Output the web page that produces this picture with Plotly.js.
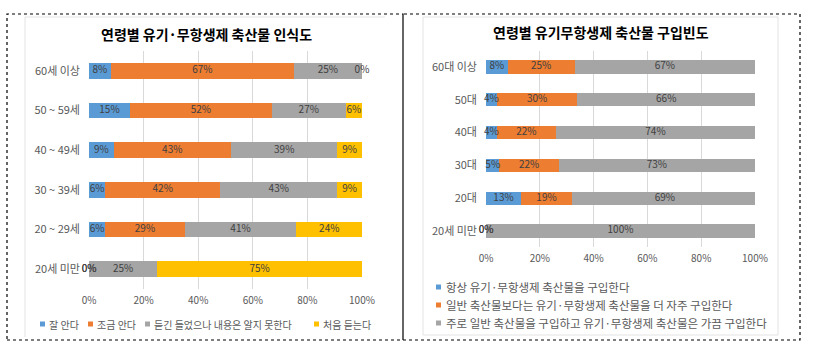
<!DOCTYPE html>
<html>
<head>
<meta charset="utf-8">
<script src="https://cdn.plot.ly/plotly-3.0.1.min.js"></script>
<style>html,body{margin:0;padding:0;background:#fff;}#chart{width:815px;height:351px;}</style>
</head>
<body>
<div id="chart"></div>
<script>
// ---- Data: left chart (awareness by age) ----
var ageCats1 = ["60세 이상", "50 ~ 59세", "40 ~ 49세", "30 ~ 39세", "20 ~ 29세", "20세 미만"];
var seriesNames1 = ["잘 안다", "조금 안다", "듣긴 들었으나 내용은 알지 못한다", "처음 듣는다"];
var knowWell   = [8, 15, 9, 6, 6, 0];
var knowLittle = [67, 52, 43, 42, 29, 0];
var heardOnly  = [25, 27, 39, 43, 41, 25];
var firstHear  = [0, 6, 9, 9, 24, 75];

// ---- Data: right chart (purchase frequency by age) ----
var ageCats2 = ["60대 이상", "50대", "40대", "30대", "20대", "20세 미만"];
var seriesNames2 = ["항상 유기·무항생제 축산물을 구입한다",
                    "일반 축산물보다는 유기·무항생제 축산물을 더 자주 구입한다",
                    "주로 일반 축산물을 구입하고 유기·무항생제 축산물은 가끔 구입한다"];
var alwaysBuy  = [8, 4, 4, 5, 13, 0];
var moreOften  = [25, 30, 22, 22, 19, 0];
var sometimes  = [67, 66, 74, 73, 69, 100];

var xTicks = [0, 20, 40, 60, 80, 100];
var xTickText = ["0%", "20%", "40%", "60%", "80%", "100%"];

var colors = ["#5B9BD5", "#ED7D31", "#A5A5A5", "#FFC000"];
var FONT = "'Noto Sans CJK KR', 'Noto Sans', sans-serif";
var W = 815, H = 351;
function X(px){ return px / W; }
function Y(py){ return 1 - py / H; }

var traces = [];
function addChart(cats, seriesList, names, xa, ya){
  var cum = cats.map(function(){ return 0; });
  seriesList.forEach(function(vals, i){
    traces.push({
      type: "bar", orientation: "h", name: names[i],
      x: vals, y: cats, xaxis: xa, yaxis: ya,
      marker: {color: colors[i]}, showlegend: false, hoverinfo: "x+y+name"
    });
    var mids = vals.map(function(v, j){ var m = cum[j] + v / 2; cum[j] += v; return m; });
    traces.push({
      type: "scatter", mode: "text", x: mids, y: cats, xaxis: xa, yaxis: ya,
      text: vals.map(function(v){ return v + "%"; }),
      textfont: {family: FONT, size: 10, color: "#404040"},
      showlegend: false, hoverinfo: "skip", cliponaxis: false
    });
  });
}
addChart(ageCats1, [knowWell, knowLittle, heardOnly, firstHear], seriesNames1, "x", "y");
addChart(ageCats2, [alwaysBuy, moreOften, sometimes], seriesNames2, "x2", "y2");

function xAxis(dom, anchor){
  return {domain: dom, anchor: anchor, range: [0, 100], tickvals: xTicks, ticktext: xTickText,
    showgrid: true, gridcolor: "#D9D9D9", gridwidth: 1, zeroline: false, showline: false,
    ticks: "", ticklabelstandoff: 4, tickfont: {family: FONT, size: 10, color: "#595959"}, fixedrange: true};
}
function yAxis(dom, anchor, cats){
  return {domain: dom, anchor: anchor, type: "category", categoryorder: "array", categoryarray: cats,
    autorange: "reversed", showgrid: false, zeroline: false, showline: false, ticks: "",
    ticklabelstandoff: 8, tickfont: {family: FONT, size: 11, color: "#595959"}, fixedrange: true};
}

var shapes = [
  // dotted outer boxes
  {type: "rect", xref: "paper", yref: "paper", x0: X(7), x1: X(403), y0: Y(340), y1: Y(14),
   line: {color: "#000", width: 1.2, dash: "dot"}},
  {type: "rect", xref: "paper", yref: "paper", x0: X(403), x1: X(800), y0: Y(340), y1: Y(14),
   line: {color: "#000", width: 1.2, dash: "dot"}},
  // left panel border (top + left)
  {type: "line", xref: "paper", yref: "paper", x0: X(25), x1: X(385), y0: Y(17), y1: Y(17),
   line: {color: "#E3E3E3", width: 1}},
  {type: "line", xref: "paper", yref: "paper", x0: X(25), x1: X(25), y0: Y(17), y1: Y(337),
   line: {color: "#E3E3E3", width: 1}},
  // right panel border
  {type: "rect", xref: "paper", yref: "paper", x0: X(423), x1: X(778), y0: Y(335), y1: Y(17),
   line: {color: "#E3E3E3", width: 1}}
];

var annotations = [
  {xref: "paper", yref: "paper", x: X(206), y: Y(34), xanchor: "center", yanchor: "middle", showarrow: false,
   text: "<b>연령별 유기·무항생제 축산물 인식도</b>", font: {family: FONT, size: 14, color: "#000"}},
  {xref: "paper", yref: "paper", x: X(601), y: Y(32), xanchor: "center", yanchor: "middle", showarrow: false,
   text: "<b>연령별 유기무항생제 축산물 구입빈도</b>", font: {family: FONT, size: 14, color: "#000"}}
];

// manual legends
var leg1 = [{sq: 40, y: 324}, {sq: 88, y: 324}, {sq: 145, y: 324}, {sq: 314, y: 324}];
seriesNames1.forEach(function(n, i){
  var p = leg1[i];
  shapes.push({type: "rect", xref: "paper", yref: "paper", x0: X(p.sq), x1: X(p.sq + 5), y0: Y(p.y + 2.5), y1: Y(p.y - 2.5),
    fillcolor: colors[i], line: {width: 0}});
  annotations.push({xref: "paper", yref: "paper", x: X(p.sq + 7), y: Y(p.y), xanchor: "left", yanchor: "middle",
    showarrow: false, text: n, font: {family: FONT, size: 10, color: "#595959"}});
});
var leg2 = [287, 305, 323];
seriesNames2.forEach(function(n, i){
  var yy = leg2[i];
  shapes.push({type: "rect", xref: "paper", yref: "paper", x0: X(436), x1: X(441), y0: Y(yy + 2.5), y1: Y(yy - 2.5),
    fillcolor: colors[i], line: {width: 0}});
  annotations.push({xref: "paper", yref: "paper", x: X(444), y: Y(yy), xanchor: "left", yanchor: "middle",
    showarrow: false, text: n, font: {family: FONT, size: 11.5, color: "#595959"}});
});

var layout = {
  width: W, height: H, margin: {l: 0, r: 0, t: 0, b: 0},
  paper_bgcolor: "#fff", plot_bgcolor: "rgba(0,0,0,0)",
  barmode: "stack", bargap: 0.6, showlegend: false,
  font: {family: FONT},
  xaxis: xAxis([X(89), X(362)], "y"),
  yaxis: yAxis([Y(289), Y(51)], "x", ageCats1),
  xaxis2: xAxis([X(486), X(755)], "y2"),
  yaxis2: yAxis([Y(247.4), Y(50.6)], "x2", ageCats2),
  shapes: shapes, annotations: annotations
};

Plotly.newPlot("chart", traces, layout, {displayModeBar: false, staticPlot: true});
</script>
</body>
</html>
